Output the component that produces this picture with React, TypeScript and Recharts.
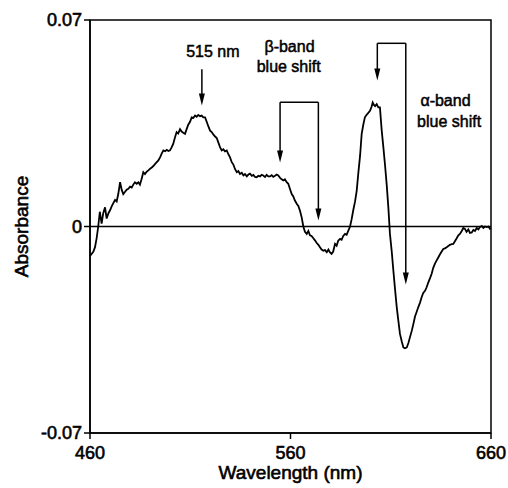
import { LineChart, Line, XAxis, YAxis, ReferenceLine, ReferenceArea, ReferenceDot } from "recharts"

const wavelength = [
  460.0, 460.8, 461.7, 462.5, 463.3, 464.1, 464.9, 465.8, 466.6, 467.5, 468.3, 469.2, 470.0, 470.8, 471.7, 472.5,
  473.3, 474.1, 475.0, 475.8, 476.6, 477.5, 478.3, 479.1, 480.0, 480.8, 481.6, 482.4, 483.3, 484.1, 484.9, 485.7,
  486.6, 487.4, 488.2, 489.1, 490.0, 490.8, 491.6, 492.5, 493.3, 494.1, 495.0, 495.8, 496.6, 497.5, 498.3, 499.1,
  499.9, 500.7, 501.5, 502.3, 503.2, 504.0, 504.9, 505.7, 506.5, 507.4, 508.2, 509.0, 509.9, 510.7, 511.5, 512.4,
  513.2, 514.0, 514.9, 515.7, 516.5, 517.4, 518.2, 519.0, 519.9, 520.7, 521.5, 522.4, 523.2, 524.0, 524.9, 525.7,
  526.5, 527.3, 528.2, 529.0, 529.8, 530.7, 531.5, 532.3, 533.2, 534.0, 534.8, 535.7, 536.5, 537.3, 538.2, 539.0,
  539.8, 540.7, 541.5, 542.3, 543.1, 544.0, 544.8, 545.6, 546.4, 547.3, 548.1, 548.9, 549.8, 550.6, 551.4, 552.3,
  553.1, 553.9, 554.8, 555.6, 556.4, 557.2, 558.1, 558.9, 559.7, 560.6, 561.4, 562.2, 563.1, 563.9, 564.7, 565.6,
  566.4, 567.2, 568.1, 568.9, 569.7, 570.5, 571.4, 572.2, 573.0, 573.9, 574.7, 575.5, 576.4, 577.2, 578.1, 578.9,
  579.7, 580.5, 581.3, 582.2, 583.0, 583.8, 584.7, 585.5, 586.3, 587.2, 588.0, 588.8, 589.7, 590.5, 591.3, 592.2,
  593.0, 593.8, 594.7, 595.5, 596.3, 597.1, 597.9, 598.8, 599.7, 600.4, 601.0, 601.6, 602.2, 603.0, 603.8, 604.6,
  605.5, 606.3, 607.1, 608.0, 608.8, 609.6, 610.5, 611.3, 612.1, 613.0, 613.8, 614.6, 615.5, 616.3, 617.1, 618.0,
  618.8, 619.6, 620.5, 621.3, 622.1, 622.9, 623.7, 624.6, 625.4, 626.2, 627.1, 627.9, 628.7, 629.6, 630.4, 631.2,
  632.1, 632.9, 633.7, 634.5, 635.4, 636.2, 637.0, 637.9, 638.7, 639.5, 640.4, 641.2, 642.0, 642.9, 643.7, 644.5,
  645.4, 646.2, 647.0, 647.8, 648.7, 649.5, 650.4, 651.2, 652.0, 652.9, 653.7, 654.5, 655.4, 656.2, 657.0, 657.9,
  658.7, 659.5, 660.0,
]

const absorbance = [
  -0.0100, -0.0093, -0.0085, -0.0070, -0.0040, 0.0000, 0.0050, 0.0010, 0.0045, 0.0065, 0.0027, 0.0045, 0.0055, 0.0068, 0.0080, 0.0090,
  0.0085, 0.0110, 0.0150, 0.0125, 0.0110, 0.0118, 0.0125, 0.0128, 0.0135, 0.0132, 0.0142, 0.0150, 0.0145, 0.0150, 0.0142, 0.0160,
  0.0184, 0.0178, 0.0185, 0.0190, 0.0196, 0.0200, 0.0205, 0.0212, 0.0218, 0.0224, 0.0235, 0.0248, 0.0258, 0.0255, 0.0260, 0.0256,
  0.0258, 0.0268, 0.0280, 0.0300, 0.0320, 0.0315, 0.0330, 0.0322, 0.0318, 0.0314, 0.0330, 0.0345, 0.0355, 0.0370, 0.0368, 0.0376,
  0.0372, 0.0378, 0.0374, 0.0376, 0.0370, 0.0370, 0.0355, 0.0340, 0.0325, 0.0320, 0.0312, 0.0305, 0.0300, 0.0285, 0.0268, 0.0258,
  0.0262, 0.0255, 0.0258, 0.0245, 0.0235, 0.0218, 0.0210, 0.0195, 0.0184, 0.0188, 0.0178, 0.0182, 0.0173, 0.0178, 0.0170, 0.0176,
  0.0179, 0.0172, 0.0175, 0.0168, 0.0167, 0.0172, 0.0170, 0.0175, 0.0173, 0.0168, 0.0175, 0.0170, 0.0170, 0.0174, 0.0168, 0.0172,
  0.0176, 0.0173, 0.0165, 0.0160, 0.0156, 0.0160, 0.0150, 0.0145, 0.0128, 0.0110, 0.0102, 0.0088, 0.0077, 0.0070, 0.0054, 0.0030,
  0.0000, -0.0018, -0.0025, -0.0015, -0.0030, -0.0032, -0.0040, -0.0047, -0.0055, -0.0062, -0.0070, -0.0078, -0.0082, -0.0080, -0.0087, -0.0078,
  -0.0088, -0.0093, -0.0085, -0.0059, -0.0065, -0.0048, -0.0042, -0.0045, -0.0032, -0.0025, -0.0028, -0.0015, 0.0000, 0.0025, 0.0055, 0.0085,
  0.0120, 0.0179, 0.0240, 0.0314, 0.0345, 0.0370, 0.0378, 0.0385, 0.0393, 0.0405, 0.0420, 0.0412, 0.0408, 0.0415, 0.0404, 0.0404,
  0.0325, 0.0270, 0.0212, 0.0140, 0.0065, -0.0025, -0.0085, -0.0149, -0.0210, -0.0274, -0.0320, -0.0364, -0.0390, -0.0410, -0.0413, -0.0410,
  -0.0395, -0.0375, -0.0353, -0.0330, -0.0305, -0.0290, -0.0274, -0.0258, -0.0240, -0.0225, -0.0218, -0.0206, -0.0190, -0.0175, -0.0160, -0.0140,
  -0.0125, -0.0115, -0.0105, -0.0095, -0.0085, -0.0076, -0.0074, -0.0070, -0.0066, -0.0062, -0.0060, -0.0059, -0.0050, -0.0040, -0.0030, -0.0025,
  -0.0015, -0.0005, -0.0008, -0.0018, -0.0010, -0.0022, -0.0020, -0.0012, -0.0015, -0.0005, -0.0010, -0.0002, 0.0002, -0.0005, 0.0000, -0.0002,
  0.0000, -0.0008, -0.0006,
]

const xTicks = [460, 560, 660]
const yTicks = [-0.07, 0, 0.07]

const data = wavelength.map((w, i) => ({ w, a: absorbance[i] }))

const FONT = "'Liberation Sans', Arial, Helvetica, sans-serif"
// scanned print looks heavier than plain Liberation Sans
const inkText = { fill: "#000", stroke: "#000", strokeWidth: 0.6, fontFamily: FONT }

// line with a downward arrow head at (x2, y2)
const ArrowDown = (p: any) => (
  <g>
    <line x1={p.x1} y1={p.y1} x2={p.x2} y2={p.y2 - 8} stroke="#000" strokeWidth={1.5} />
    <polygon points={`${p.x2 - 3},${p.y2 - 12} ${p.x2 + 3},${p.y2 - 12} ${p.x2},${p.y2}`} fill="#000" />
  </g>
)

const PlainSeg = (p: any) => <line x1={p.x1} y1={p.y1} x2={p.x2} y2={p.y2} stroke="#000" strokeWidth={1.5} />

const note = (txt: string) => (p: any) => (
  <text x={p.cx} y={p.cy} textAnchor="middle" fontSize={16} {...inkText} strokeWidth={0.5}>
    {txt}
  </text>
)

export default function App() {
  return (
    <div style={{ position: "absolute", left: 0, top: 0, background: "#fff" }}>
      <LineChart width={508} height={488} data={data} margin={{ top: 20, right: 17, left: 0, bottom: 25 }}>
        <XAxis
          dataKey="w"
          type="number"
          domain={[460, 660]}
          ticks={xTicks}
          height={30}
          tickSize={6}
          tickMargin={7}
          axisLine={{ stroke: "#000", strokeWidth: 1.5 }}
          tickLine={{ stroke: "#000", strokeWidth: 1.5 }}
          tick={{ ...inkText, fontSize: 18 }}
          label={{ value: "Wavelength (nm)", position: "bottom", offset: 3, fontSize: 19, ...inkText }}
        />
        <YAxis
          type="number"
          domain={[-0.07, 0.07]}
          ticks={yTicks}
          width={90}
          tickSize={6}
          tickFormatter={(v: number) => (v === 0 ? "0" : String(v))}
          axisLine={{ stroke: "#000", strokeWidth: 1.5 }}
          tickLine={{ stroke: "#000", strokeWidth: 1.5 }}
          tick={{ ...inkText, fontSize: 18 }}
          label={{ value: "Absorbance", angle: -90, position: "insideLeft", offset: 21, textAnchor: "middle", fontSize: 19, ...inkText }}
        />
        <ReferenceArea x1={460} x2={660} y1={-0.07} y2={0.07} fill="none" stroke="#000" strokeWidth={1.5} />
        <ReferenceLine y={0} stroke="#000" strokeWidth={1.5} />

        {/* 515 nm */}
        <ReferenceLine segment={[{ x: 515.8, y: 0.0533 }, { x: 515.8, y: 0.0410 }]} shape={ArrowDown} />
        <ReferenceDot x={521.3} y={0.0573} r={0} shape={note("515 nm")} />

        {/* beta band */}
        <ReferenceLine segment={[{ x: 554.8, y: 0.0421 }, { x: 554.8, y: 0.0217 }]} shape={ArrowDown} />
        <ReferenceLine segment={[{ x: 554.8, y: 0.0421 }, { x: 573.9, y: 0.0421 }]} shape={PlainSeg} />
        <ReferenceLine segment={[{ x: 573.9, y: 0.0421 }, { x: 573.9, y: 0.0020 }]} shape={ArrowDown} />
        <ReferenceDot x={559.5} y={0.0593} r={0} shape={note("β-band")} />
        <ReferenceDot x={559.1} y={0.0525} r={0} shape={note("blue shift")} />

        {/* alpha band */}
        <ReferenceLine segment={[{ x: 603.3, y: 0.0621 }, { x: 603.3, y: 0.0495 }]} shape={ArrowDown} />
        <ReferenceLine segment={[{ x: 603.3, y: 0.0621 }, { x: 617.5, y: 0.0621 }]} shape={PlainSeg} />
        <ReferenceLine segment={[{ x: 617.5, y: 0.0621 }, { x: 617.5, y: -0.0197 }]} shape={ArrowDown} />
        <ReferenceDot x={637.3} y={0.0407} r={0} shape={note("α-band")} />
        <ReferenceDot x={639.1} y={0.0336} r={0} shape={note("blue shift")} />

        <Line type="linear" dataKey="a" stroke="#000" strokeWidth={1.8} dot={false} isAnimationActive={false} />
      </LineChart>
    </div>
  )
}
